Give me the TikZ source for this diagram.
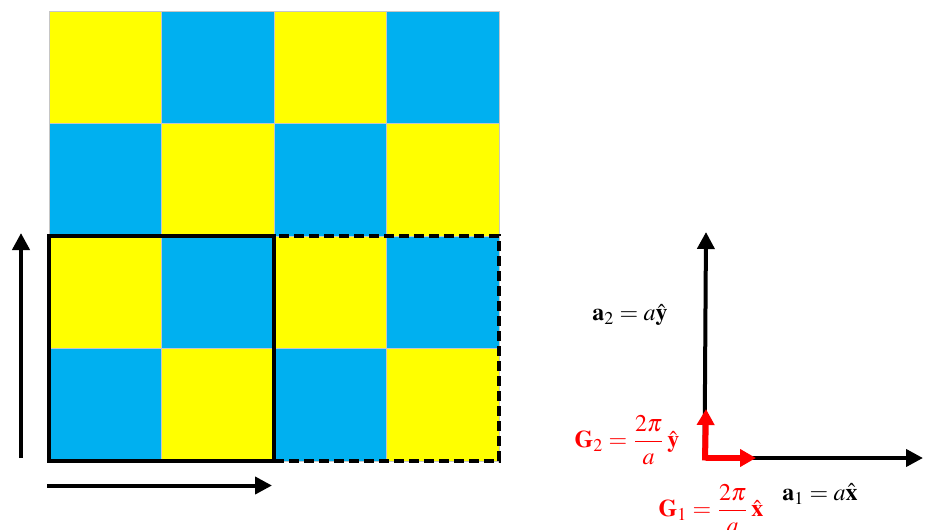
\documentclass[tikz,border=0pt]{standalone}
\usepackage{amsmath}
\usepackage{mathptmx}
\usetikzlibrary{arrows.meta}
\definecolor{ckYellow}{RGB}{255,255,0}
\definecolor{ckBlue}{RGB}{0,176,240}
\definecolor{ckRed}{RGB}{255,0,0}

\begin{document}
\begin{tikzpicture}[x=0.5pt,y=-0.5pt]
\tikzset{
    ckCell/.style={rectangle,draw=gray!45,line width=0.4pt,minimum width=56.25pt,minimum height=56.25pt,inner sep=0pt,outer sep=0pt},
    ckYel/.style={ckCell,fill=ckYellow},
    ckBlu/.style={ckCell,fill=ckBlue},
    ckFrame/.style={draw=black,line width=2pt},
    ckVec/.style={line width=2pt,-{Triangle[length=8.5pt,width=8.5pt]}},
    ckRecip/.style={draw=ckRed,line width=3pt,-{Triangle[length=8pt,width=8.5pt]}},
    ckLabel/.style={font=\large,inner sep=1pt},
}
\useasboundingbox (0,0) rectangle (927,530);

\node[ckYel] (c00) at (105.25,67.25) {};
\node[ckBlu] (c01) at (217.75,67.25) {};
\node[ckYel] (c02) at (330.25,67.25) {};
\node[ckBlu] (c03) at (442.75,67.25) {};
\node[ckBlu] (c10) at (105.25,179.75) {};
\node[ckYel] (c11) at (217.75,179.75) {};
\node[ckBlu] (c12) at (330.25,179.75) {};
\node[ckYel] (c13) at (442.75,179.75) {};
\node[ckYel] (c20) at (105.25,292.25) {};
\node[ckBlu] (c21) at (217.75,292.25) {};
\node[ckYel] (c22) at (330.25,292.25) {};
\node[ckBlu] (c23) at (442.75,292.25) {};
\node[ckBlu] (c30) at (105.25,404.75) {};
\node[ckYel] (c31) at (217.75,404.75) {};
\node[ckBlu] (c32) at (330.25,404.75) {};
\node[ckYel] (c33) at (442.75,404.75) {};

% unit cells
\draw[ckFrame,dash pattern=on 5pt off 2.5pt] (c22.north west) rectangle (c33.south east);
\draw[ckFrame] (c20.north west) rectangle (c31.south east);

% lattice arrows on the left
\coordinate (vy0) at (21,458);
\coordinate (vy1) at (21,233);
\coordinate (vx0) at (47,485.5);
\coordinate (vx1) at (272,485.5);
\draw[ckVec] (vy0) -- (vy1);
\draw[ckVec] (vx0) -- (vx1);

% basis vectors
\coordinate (o) at (706,458);
\coordinate (a1) at (923,458);
\coordinate (a2) at (706,232);
\coordinate (g1) at (756,458);
\coordinate (g2) at (706,409);
\draw[ckVec] (704.5,459) -- (a2);
\draw[ckVec] (o) -- (a1);
\draw[ckRecip] (o) -- (g1);
\draw[ckRecip] (705,460.5) -- (g2);

\node[ckLabel] (la2) at (630,315) {$\mathbf{a}_2=a\hat{\mathbf{y}}$};
\node[ckLabel] (la1) at (820,494) {$\mathbf{a}_1=a\hat{\mathbf{x}}$};
\node[ckLabel,text=ckRed] (lg2) at (627,440) {$\mathbf{G}_2=\dfrac{2\pi}{a}\,\hat{\mathbf{y}}$};
\node[ckLabel,text=ckRed] (lg1) at (711,509) {$\mathbf{G}_1=\dfrac{2\pi}{a}\,\hat{\mathbf{x}}$};
\end{tikzpicture}
\end{document}
